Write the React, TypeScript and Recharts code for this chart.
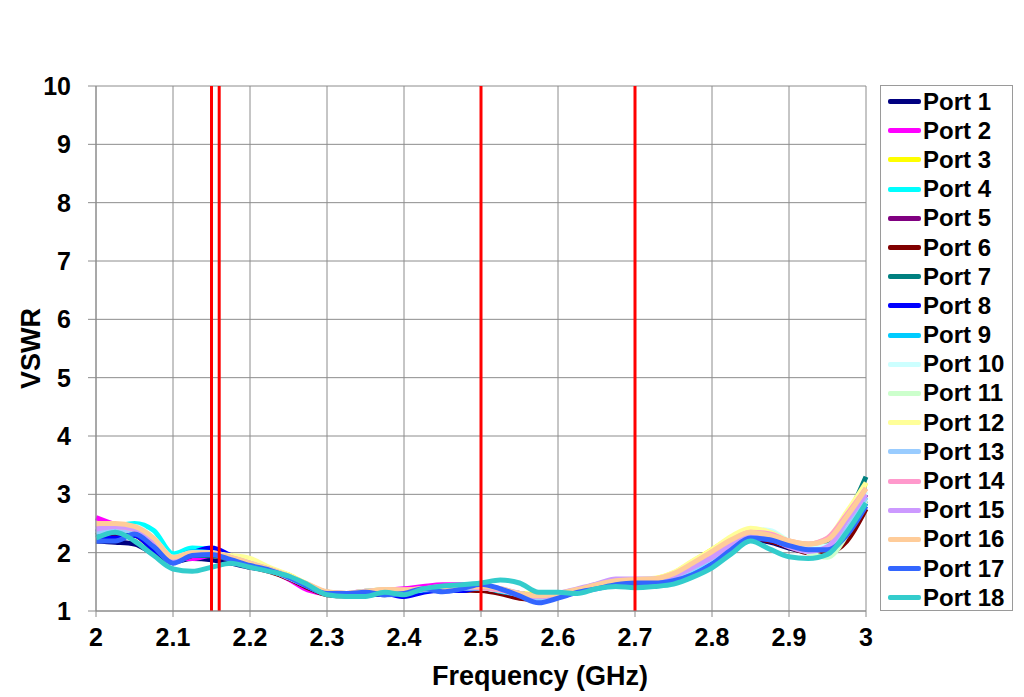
import React from 'react'
import { LineChart, Line, XAxis, YAxis, CartesianGrid, ReferenceLine } from 'recharts'

// frequency points (GHz), 0.025 step
const freqs = [
  2, 2.025, 2.05, 2.075, 2.1, 2.125, 2.15, 2.175, 2.2, 2.225,
  2.25, 2.275, 2.3, 2.325, 2.35, 2.375, 2.4, 2.425, 2.45, 2.475,
  2.5, 2.525, 2.55, 2.575, 2.6, 2.625, 2.65, 2.675, 2.7, 2.725,
  2.75, 2.775, 2.8, 2.825, 2.85, 2.875, 2.9, 2.925, 2.95, 2.975, 3,
]

const xTicks = [2, 2.1, 2.2, 2.3, 2.4, 2.5, 2.6, 2.7, 2.8, 2.9, 3]
const yTicks = [1, 2, 3, 4, 5, 6, 7, 8, 9, 10]
const markers = [2.15, 2.16, 2.5, 2.7]

const port1 = [2.2, 2.18, 2.15, 1.98, 1.85, 1.9, 1.88, 1.82, 1.75, 1.7, 1.58, 1.42, 1.3, 1.28, 1.3, 1.28, 1.32, 1.36, 1.38, 1.35, 1.4, 1.35, 1.28, 1.22, 1.26, 1.33, 1.42, 1.46, 1.48, 1.45, 1.5, 1.6, 1.8, 2.02, 2.22, 2.18, 2.08, 2.02, 2.08, 2.4, 2.9]
const port2 = [2.6, 2.48, 2.4, 2.18, 1.9, 1.9, 1.95, 1.88, 1.78, 1.7, 1.55, 1.36, 1.3, 1.3, 1.34, 1.35, 1.38, 1.42, 1.45, 1.45, 1.42, 1.38, 1.28, 1.22, 1.24, 1.33, 1.4, 1.5, 1.52, 1.55, 1.6, 1.72, 1.9, 2.1, 2.28, 2.25, 2.12, 2.08, 2.15, 2.5, 3.0]
const port3 = [2.4, 2.42, 2.32, 2.12, 1.9, 1.98, 1.95, 1.92, 1.88, 1.72, 1.62, 1.45, 1.32, 1.3, 1.34, 1.36, 1.35, 1.38, 1.38, 1.42, 1.4, 1.36, 1.3, 1.28, 1.3, 1.36, 1.45, 1.5, 1.52, 1.55, 1.65, 1.85, 2.05, 2.25, 2.38, 2.3, 2.18, 2.12, 2.22, 2.65, 3.2]
const port4 = [2.4, 2.45, 2.5, 2.38, 1.98, 2.08, 2.05, 1.9, 1.8, 1.7, 1.6, 1.45, 1.3, 1.28, 1.3, 1.33, 1.3, 1.36, 1.38, 1.4, 1.42, 1.35, 1.3, 1.25, 1.28, 1.36, 1.42, 1.48, 1.5, 1.5, 1.58, 1.75, 1.95, 2.15, 2.32, 2.28, 2.15, 2.1, 2.18, 2.55, 3.0]
const port5 = [2.35, 2.4, 2.35, 2.1, 1.85, 1.95, 1.98, 1.9, 1.78, 1.7, 1.58, 1.42, 1.3, 1.27, 1.3, 1.32, 1.34, 1.38, 1.4, 1.42, 1.4, 1.35, 1.3, 1.24, 1.28, 1.34, 1.42, 1.48, 1.5, 1.52, 1.6, 1.75, 1.92, 2.12, 2.28, 2.26, 2.15, 2.1, 2.12, 2.45, 3.0]
const port6 = [2.3, 2.32, 2.3, 2.05, 1.88, 1.98, 1.96, 1.88, 1.76, 1.68, 1.56, 1.4, 1.28, 1.26, 1.28, 1.3, 1.32, 1.36, 1.38, 1.36, 1.35, 1.3, 1.22, 1.2, 1.26, 1.34, 1.4, 1.46, 1.48, 1.5, 1.55, 1.7, 1.88, 2.08, 2.25, 2.2, 2.1, 2.0, 2.0, 2.2, 2.75]
const port7 = [2.3, 2.35, 2.35, 2.1, 1.85, 1.95, 1.95, 1.88, 1.78, 1.7, 1.58, 1.42, 1.3, 1.28, 1.3, 1.32, 1.33, 1.36, 1.38, 1.38, 1.4, 1.36, 1.3, 1.25, 1.28, 1.34, 1.42, 1.48, 1.5, 1.5, 1.58, 1.72, 1.9, 2.1, 2.27, 2.24, 2.12, 2.08, 2.15, 2.6, 3.3]
const port8 = [2.25, 2.25, 2.3, 2.05, 1.88, 2.0, 2.08, 1.95, 1.8, 1.7, 1.58, 1.42, 1.3, 1.26, 1.28, 1.3, 1.25, 1.32, 1.36, 1.35, 1.4, 1.35, 1.28, 1.22, 1.26, 1.32, 1.4, 1.46, 1.5, 1.48, 1.52, 1.65, 1.85, 2.05, 2.25, 2.22, 2.12, 2.05, 2.08, 2.35, 2.85]
const port9 = [2.35, 2.4, 2.42, 2.2, 1.9, 2.02, 2.0, 1.9, 1.78, 1.7, 1.58, 1.43, 1.3, 1.28, 1.3, 1.32, 1.32, 1.36, 1.38, 1.4, 1.4, 1.34, 1.28, 1.22, 1.26, 1.34, 1.42, 1.48, 1.5, 1.5, 1.56, 1.7, 1.9, 2.12, 2.3, 2.26, 2.14, 2.06, 2.1, 2.45, 2.95]
const port10 = [2.4, 2.45, 2.45, 2.25, 1.92, 2.0, 2.0, 1.92, 1.82, 1.72, 1.6, 1.45, 1.32, 1.3, 1.32, 1.35, 1.34, 1.37, 1.4, 1.4, 1.4, 1.36, 1.3, 1.24, 1.28, 1.36, 1.44, 1.5, 1.52, 1.54, 1.62, 1.8, 2.0, 2.22, 2.4, 2.38, 2.2, 2.1, 2.12, 2.5, 3.05]
const port11 = [2.4, 2.42, 2.4, 2.2, 1.9, 1.98, 1.98, 1.9, 1.8, 1.7, 1.6, 1.44, 1.32, 1.3, 1.33, 1.35, 1.35, 1.38, 1.4, 1.4, 1.4, 1.35, 1.3, 1.25, 1.28, 1.35, 1.43, 1.5, 1.52, 1.52, 1.6, 1.78, 1.98, 2.2, 2.38, 2.35, 2.18, 2.0, 1.92, 2.3, 2.9]
const port12 = [2.45, 2.45, 2.38, 2.15, 1.9, 1.98, 1.98, 1.95, 1.9, 1.75, 1.62, 1.46, 1.32, 1.3, 1.34, 1.36, 1.36, 1.38, 1.4, 1.42, 1.4, 1.36, 1.3, 1.26, 1.3, 1.36, 1.45, 1.52, 1.54, 1.56, 1.66, 1.86, 2.05, 2.28, 2.42, 2.35, 2.2, 2.15, 2.25, 2.7, 3.2]
const port13 = [2.35, 2.38, 2.38, 2.15, 1.88, 1.98, 1.98, 1.9, 1.78, 1.7, 1.57, 1.42, 1.3, 1.3, 1.34, 1.36, 1.33, 1.37, 1.38, 1.4, 1.4, 1.36, 1.28, 1.2, 1.24, 1.34, 1.46, 1.5, 1.5, 1.5, 1.58, 1.72, 1.9, 2.1, 2.3, 2.28, 2.15, 2.05, 2.05, 2.4, 2.95]
const port14 = [2.45, 2.45, 2.4, 2.2, 1.9, 1.98, 1.98, 1.9, 1.8, 1.7, 1.58, 1.44, 1.32, 1.3, 1.33, 1.36, 1.36, 1.38, 1.42, 1.42, 1.4, 1.36, 1.28, 1.25, 1.28, 1.35, 1.44, 1.5, 1.52, 1.54, 1.62, 1.8, 2.0, 2.2, 2.35, 2.32, 2.2, 2.15, 2.25, 2.65, 3.1]
const port15 = [2.4, 2.45, 2.42, 2.22, 1.9, 1.98, 1.98, 1.92, 1.82, 1.72, 1.6, 1.45, 1.32, 1.3, 1.32, 1.35, 1.35, 1.38, 1.4, 1.42, 1.42, 1.38, 1.3, 1.25, 1.3, 1.38, 1.46, 1.55, 1.55, 1.55, 1.6, 1.75, 1.92, 2.12, 2.28, 2.24, 2.1, 2.02, 2.1, 2.55, 3.0]
const port16 = [2.5, 2.5, 2.45, 2.25, 1.92, 2.0, 2.0, 1.92, 1.82, 1.72, 1.6, 1.46, 1.33, 1.3, 1.33, 1.37, 1.36, 1.38, 1.4, 1.42, 1.42, 1.38, 1.3, 1.26, 1.3, 1.37, 1.45, 1.52, 1.54, 1.55, 1.64, 1.82, 2.02, 2.22, 2.35, 2.3, 2.2, 2.15, 2.22, 2.62, 3.1]
const port17 = [2.2, 2.2, 2.32, 2.1, 1.82, 1.95, 1.97, 1.88, 1.78, 1.7, 1.58, 1.42, 1.3, 1.3, 1.32, 1.28, 1.3, 1.38, 1.33, 1.38, 1.46, 1.38, 1.26, 1.14, 1.22, 1.32, 1.38, 1.45, 1.48, 1.48, 1.52, 1.62, 1.8, 2.05, 2.25, 2.22, 2.12, 2.05, 2.05, 2.3, 2.8]
const port18 = [2.25, 2.35, 2.2, 1.95, 1.72, 1.68, 1.75, 1.82, 1.75, 1.68, 1.6, 1.45, 1.28, 1.25, 1.25, 1.32, 1.28, 1.38, 1.43, 1.45, 1.48, 1.53, 1.48, 1.32, 1.32, 1.3, 1.38, 1.42, 1.4, 1.42, 1.46, 1.58, 1.74, 1.98, 2.2, 2.06, 1.93, 1.9, 1.97, 2.35, 2.85]

const ports = [
  { key: 'p1', name: 'Port 1', color: '#000080', values: port1 },
  { key: 'p2', name: 'Port 2', color: '#FF00FF', values: port2 },
  { key: 'p3', name: 'Port 3', color: '#FFFF00', values: port3 },
  { key: 'p4', name: 'Port 4', color: '#00FFFF', values: port4 },
  { key: 'p5', name: 'Port 5', color: '#800080', values: port5 },
  { key: 'p6', name: 'Port 6', color: '#800000', values: port6 },
  { key: 'p7', name: 'Port 7', color: '#008080', values: port7 },
  { key: 'p8', name: 'Port 8', color: '#0000FF', values: port8 },
  { key: 'p9', name: 'Port 9', color: '#00CCFF', values: port9 },
  { key: 'p10', name: 'Port 10', color: '#CCFFFF', values: port10 },
  { key: 'p11', name: 'Port 11', color: '#CCFFCC', values: port11 },
  { key: 'p12', name: 'Port 12', color: '#FFFF99', values: port12 },
  { key: 'p13', name: 'Port 13', color: '#99CCFF', values: port13 },
  { key: 'p14', name: 'Port 14', color: '#FF99CC', values: port14 },
  { key: 'p15', name: 'Port 15', color: '#CC99FF', values: port15 },
  { key: 'p16', name: 'Port 16', color: '#FFCC99', values: port16 },
  { key: 'p17', name: 'Port 17', color: '#3366FF', values: port17 },
  { key: 'p18', name: 'Port 18', color: '#33CCCC', values: port18 },
]

const data = freqs.map((f, i) => {
  const row: Record<string, number> = { f }
  ports.forEach((p) => { row[p.key] = p.values[i] })
  return row
})

const font = '"Liberation Sans", Arial, sans-serif'
const tickStyle = { fontFamily: font, fontSize: 25, fontWeight: 700, fill: '#000' }
const titleStyle = { fontFamily: font, fontSize: 27, fontWeight: 700, fill: '#000' }

function PortLegend() {
  return (
    <div
      style={{
        position: 'absolute', left: 880, top: 85, width: 133, height: 526,
        border: '1px solid #9a9a9a', boxSizing: 'border-box', background: '#fff',
        fontFamily: font, fontWeight: 700, fontSize: 24, paddingTop: 1,
      }}
    >
      {ports.map((p) => (
        <div key={p.key} style={{ display: 'flex', alignItems: 'center', height: 29.2, whiteSpace: 'nowrap' }}>
          <span style={{ display: 'inline-block', width: 33, height: 5, background: p.color, marginLeft: 7, marginRight: 2, borderRadius: 2 }} />
          <span>{p.name}</span>
        </div>
      ))}
    </div>
  )
}

export default function App() {
  return (
    <div style={{ position: 'absolute', left: 0, top: 0, width: 1024, height: 697, background: '#fff' }}>
      <LineChart width={1024} height={697} data={data} margin={{ top: 86, right: 158, left: 0, bottom: 0 }}>
        <CartesianGrid stroke="#8c8c8c" strokeWidth={1} />
        <XAxis
          dataKey="f"
          type="number"
          domain={[2, 3]}
          ticks={xTicks}
          height={86}
          stroke="#8c8c8c"
          tickSize={6}
          tickMargin={11}
          tick={tickStyle}
          tickFormatter={(v: number) => String(Number(v.toFixed(1)))}
          label={{ value: 'Frequency (GHz)', position: 'insideBottom', offset: 12, dx: 59, style: titleStyle }}
        />
        <YAxis
          type="number"
          domain={[1, 10]}
          ticks={yTicks}
          width={96}
          stroke="#8c8c8c"
          tickSize={8}
          tickMargin={17}
          tick={tickStyle}
          label={{ value: 'VSWR', angle: -90, position: 'center', dx: -18, style: titleStyle }}
        />
        {ports.map((p) => (
          <Line
            key={p.key}
            dataKey={p.key}
            name={p.name}
            type="monotone"
            stroke={p.color}
            strokeWidth={5}
            dot={false}
            isAnimationActive={false}
          />
        ))}
        {markers.map((m) => (
          <ReferenceLine key={m} x={m} stroke="#FF0000" strokeWidth={3} />
        ))}
      </LineChart>
      <PortLegend />
    </div>
  )
}
